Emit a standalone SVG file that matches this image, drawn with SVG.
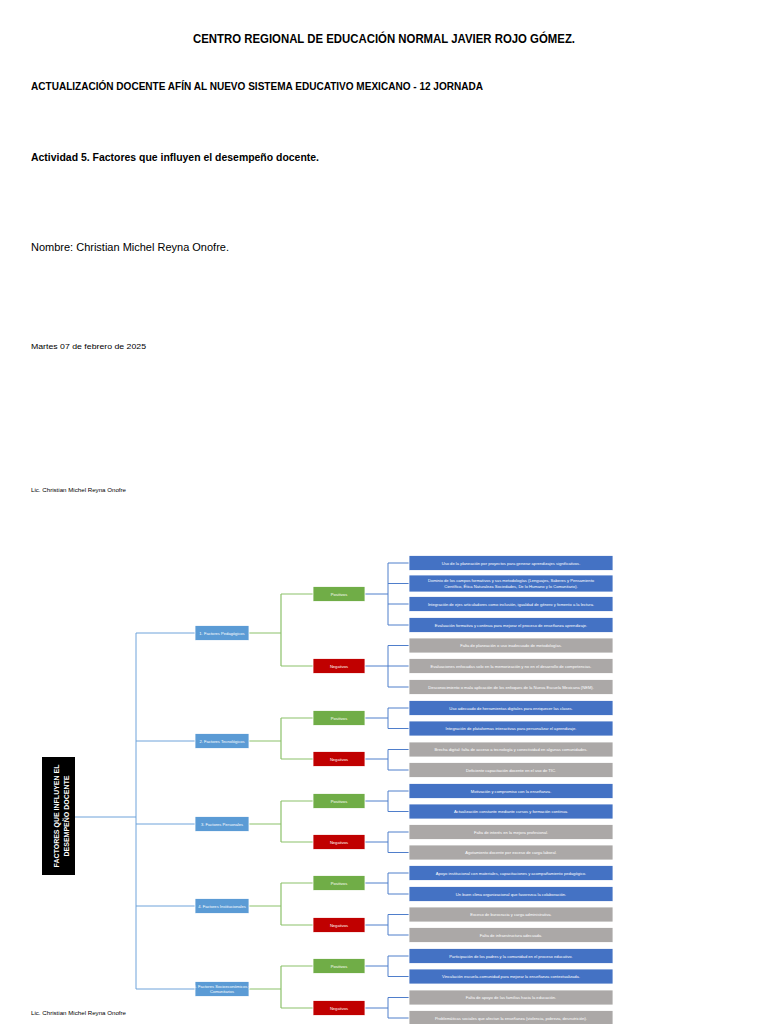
<svg xmlns="http://www.w3.org/2000/svg" width="768" height="1024" viewBox="0 0 768 1024">
<style>
.h{font-family:"Liberation Sans",Arial,sans-serif;fill:#000}
.b{font-weight:bold}
.t{font-family:"Liberation Sans",Arial,sans-serif;fill:#fff;font-size:4.1px;text-anchor:middle}
.it{stroke:#fff;stroke-width:0.8}
.pi{fill:#4472C4}
.ni{fill:#ABA8A7}
.cat{fill:#5B9BD5;stroke:#fff;stroke-width:0.8}
.pos{fill:#70AD47;stroke:#fff;stroke-width:0.8}
.neg{fill:#C00000;stroke:#fff;stroke-width:0.8}
.lr{fill:none;stroke:#6FA3DA;stroke-width:1}
.lg{fill:none;stroke:#8CC16A;stroke-width:1.2}
.lb{fill:none;stroke:#4F7ECB;stroke-width:1}
</style>
<rect width="768" height="1024" fill="#fff"/>
<g id="header">
<text class="h b" x="384" y="43" font-size="12.5" text-anchor="middle" textLength="382" lengthAdjust="spacingAndGlyphs">CENTRO REGIONAL DE EDUCACIÓN NORMAL JAVIER ROJO GÓMEZ.</text>
<text class="h b" x="31" y="90" font-size="11" textLength="452" lengthAdjust="spacingAndGlyphs">ACTUALIZACIÓN DOCENTE AFÍN AL NUEVO SISTEMA EDUCATIVO MEXICANO - 12 JORNADA</text>
<text class="h b" x="31" y="161" font-size="11.5" textLength="288" lengthAdjust="spacingAndGlyphs">Actividad 5. Factores que influyen el desempeño docente.</text>
<text class="h" x="31" y="251" font-size="11.5" textLength="198" lengthAdjust="spacingAndGlyphs">Nombre: Christian Michel Reyna Onofre.</text>
<text class="h" x="31" y="349" font-size="8" textLength="115" lengthAdjust="spacingAndGlyphs">Martes 07 de febrero de 2025</text>
<text class="h" x="31" y="492" font-size="5.5" textLength="95" lengthAdjust="spacingAndGlyphs">Lic. Christian Michel Reyna Onofre</text>
<text class="h" x="31" y="1015" font-size="5.5" textLength="95" lengthAdjust="spacingAndGlyphs">Lic. Christian Michel Reyna Onofre</text>
</g>
<g id="connectors">
<path class="lr" d="M75 817H136M136 633V989M136 633H195M136 741H195M136 824H195M136 906H195M136 989H195"/>
<path class="lg" d="M249 633H281M281 594V666M281 594H313M281 666H313"/>
<path class="lg" d="M249 741H281M281 718V759M281 718H313M281 759H313"/>
<path class="lg" d="M249 824H281M281 801V842M281 801H313M281 842H313"/>
<path class="lg" d="M249 906H281M281 883V925M281 883H313M281 925H313"/>
<path class="lg" d="M249 989H281M281 966V1008M281 966H313M281 1008H313"/>
<path class="lb" d="M365 594H388M388 563V625M388 563H409M388 583.5H409M388 604H409M388 625H409"/>
<path class="lb" d="M365 666H388M388 645.5V687M388 645.5H409M388 666H409M388 687H409"/>
<path class="lb" d="M365 718H388M388 708V728.5M388 708H409M388 728.5H409"/>
<path class="lb" d="M365 759H388M388 749.5V770M388 749.5H409M388 770H409"/>
<path class="lb" d="M365 801H388M388 791V811.5M388 791H409M388 811.5H409"/>
<path class="lb" d="M365 842H388M388 832V852.5M388 832H409M388 852.5H409"/>
<path class="lb" d="M365 883H388M388 873V894M388 873H409M388 894H409"/>
<path class="lb" d="M365 925H388M388 914.5V935M388 914.5H409M388 935H409"/>
<path class="lb" d="M365 966H388M388 956V976.5M388 956H409M388 976.5H409"/>
<path class="lb" d="M365 1008H388M388 997.5V1018M388 997.5H409M388 1018H409"/>
</g>
<g id="root">
<rect x="42" y="757" width="33" height="118" fill="#000"/>
<g transform="translate(58.5 816) rotate(-90)"><text x="0" y="0" font-family="'Liberation Sans',Arial,sans-serif" font-weight="bold" font-size="7" fill="#fff" text-anchor="middle">FACTORES QUE INFLUYEN  EL</text></g>
<g transform="translate(68.5 816) rotate(-90)"><text x="0" y="0" font-family="'Liberation Sans',Arial,sans-serif" font-weight="bold" font-size="7" fill="#fff" text-anchor="middle">DESEMPEÑO DOCENTE</text></g>
</g>
<g id="cat1"><rect class="cat" x="195" y="625.5" width="54" height="15"/><text class="t" x="222" y="634.5">1. Factores Pedagógicos</text></g>
<g id="cat2"><rect class="cat" x="195" y="733.5" width="54" height="15"/><text class="t" x="222" y="742.5">2. Factores Tecnológicos</text></g>
<g id="cat3"><rect class="cat" x="195" y="816.5" width="54" height="15"/><text class="t" x="222" y="825.5">3. Factores Personales</text></g>
<g id="cat4"><rect class="cat" x="195" y="898.5" width="54" height="15"/><text class="t" x="222" y="907.5">4. Factores Institucionales</text></g>
<g id="cat5"><rect class="cat" x="195" y="981.5" width="54" height="15"/><text class="t" x="222" y="988">5. Factores Socioeconómicos y</text><text class="t" x="222" y="993">Comunitarios</text></g>
<g id="pos1"><rect class="pos" x="313" y="586.5" width="52" height="15"/><text class="t" x="339" y="595.5">Positivos</text></g>
<g id="neg1"><rect class="neg" x="313" y="658.5" width="52" height="15"/><text class="t" x="339" y="667.5">Negativos</text></g>
<g id="pos2"><rect class="pos" x="313" y="710.5" width="52" height="15"/><text class="t" x="339" y="719.5">Positivos</text></g>
<g id="neg2"><rect class="neg" x="313" y="751.5" width="52" height="15"/><text class="t" x="339" y="760.5">Negativos</text></g>
<g id="pos3"><rect class="pos" x="313" y="793.5" width="52" height="15"/><text class="t" x="339" y="802.5">Positivos</text></g>
<g id="neg3"><rect class="neg" x="313" y="834.5" width="52" height="15"/><text class="t" x="339" y="843.5">Negativos</text></g>
<g id="pos4"><rect class="pos" x="313" y="875.5" width="52" height="15"/><text class="t" x="339" y="884.5">Positivos</text></g>
<g id="neg4"><rect class="neg" x="313" y="917.5" width="52" height="15"/><text class="t" x="339" y="926.5">Negativos</text></g>
<g id="pos5"><rect class="pos" x="313" y="958.5" width="52" height="15"/><text class="t" x="339" y="967.5">Positivos</text></g>
<g id="neg5"><rect class="neg" x="313" y="1000.5" width="52" height="15"/><text class="t" x="339" y="1009.5">Negativos</text></g>
<g id="p1a"><rect class="pi it" x="409" y="555.5" width="204" height="15"/><text class="t" x="511" y="564.5">Uso de la planeación por proyectos para generar aprendizajes significativos.</text></g>
<g id="p1b"><rect class="pi it" x="409" y="575" width="204" height="17"/><text class="t" x="511" y="582">Dominio de los campos formativos y sus metodologías (Lenguajes, Saberes y Pensamiento</text><text class="t" x="511" y="587.5">Científico, Ética Naturaleza Sociedades, De lo Humano y lo Comunitario).</text></g>
<g id="p1c"><rect class="pi it" x="409" y="596.5" width="204" height="15"/><text class="t" x="511" y="605.5">Integración de ejes articuladores como inclusión, igualdad de género y fomento a la lectura.</text></g>
<g id="p1d"><rect class="pi it" x="409" y="617.5" width="204" height="15"/><text class="t" x="511" y="626.5">Evaluación formativa y continua para mejorar el proceso de enseñanza aprendizaje.</text></g>
<g id="n1a"><rect class="ni it" x="409" y="638" width="204" height="15"/><text class="t" x="511" y="647">Falta de planeación o uso inadecuado de metodologías.</text></g>
<g id="n1b"><rect class="ni it" x="409" y="658.5" width="204" height="15"/><text class="t" x="511" y="667.5">Evaluaciones enfocadas solo en la memorización y no en el desarrollo de competencias.</text></g>
<g id="n1c"><rect class="ni it" x="409" y="679.5" width="204" height="15"/><text class="t" x="511" y="688.5">Desconocimiento o mala aplicación de los enfoques de la Nueva Escuela Mexicana (NEM).</text></g>
<g id="p2a"><rect class="pi it" x="409" y="700.5" width="204" height="15"/><text class="t" x="511" y="709.5">Uso adecuado de herramientas digitales para enriquecer las clases.</text></g>
<g id="p2b"><rect class="pi it" x="409" y="721" width="204" height="15"/><text class="t" x="511" y="730">Integración de plataformas interactivas para personalizar el aprendizaje.</text></g>
<g id="n2a"><rect class="ni it" x="409" y="742" width="204" height="15"/><text class="t" x="511" y="751">Brecha digital: falta de acceso a tecnología y conectividad en algunas comunidades.</text></g>
<g id="n2b"><rect class="ni it" x="409" y="762.5" width="204" height="15"/><text class="t" x="511" y="771.5">Deficiente capacitación docente en el uso de TIC.</text></g>
<g id="p3a"><rect class="pi it" x="409" y="783.5" width="204" height="15"/><text class="t" x="511" y="792.5">Motivación y compromiso con la enseñanza.</text></g>
<g id="p3b"><rect class="pi it" x="409" y="804" width="204" height="15"/><text class="t" x="511" y="813">Actualización constante mediante cursos y formación continua.</text></g>
<g id="n3a"><rect class="ni it" x="409" y="824.5" width="204" height="15"/><text class="t" x="511" y="833.5">Falta de interés en la mejora profesional.</text></g>
<g id="n3b"><rect class="ni it" x="409" y="845" width="204" height="15"/><text class="t" x="511" y="854">Agotamiento docente por exceso de carga laboral.</text></g>
<g id="p4a"><rect class="pi it" x="409" y="865.5" width="204" height="15"/><text class="t" x="511" y="874.5">Apoyo institucional con materiales, capacitaciones y acompañamiento pedagógico.</text></g>
<g id="p4b"><rect class="pi it" x="409" y="886.5" width="204" height="15"/><text class="t" x="511" y="895.5">Un buen clima organizacional que favorezca la colaboración.</text></g>
<g id="n4a"><rect class="ni it" x="409" y="907" width="204" height="15"/><text class="t" x="511" y="916">Exceso de burocracia y carga administrativa.</text></g>
<g id="n4b"><rect class="ni it" x="409" y="927.5" width="204" height="15"/><text class="t" x="511" y="936.5">Falta de infraestructura adecuada.</text></g>
<g id="p5a"><rect class="pi it" x="409" y="948.5" width="204" height="15"/><text class="t" x="511" y="957.5">Participación de los padres y la comunidad en el proceso educativo.</text></g>
<g id="p5b"><rect class="pi it" x="409" y="969" width="204" height="15"/><text class="t" x="511" y="978">Vinculación escuela-comunidad para mejorar la enseñanza contextualizada.</text></g>
<g id="n5a"><rect class="ni it" x="409" y="990" width="204" height="15"/><text class="t" x="511" y="999">Falta de apoyo de las familias hacia la educación.</text></g>
<g id="n5b"><rect class="ni it" x="409" y="1010.5" width="204" height="15"/><text class="t" x="511" y="1019.5">Problemáticas sociales que afectan la enseñanza (violencia, pobreza, desnutrición).</text></g>
</svg>
